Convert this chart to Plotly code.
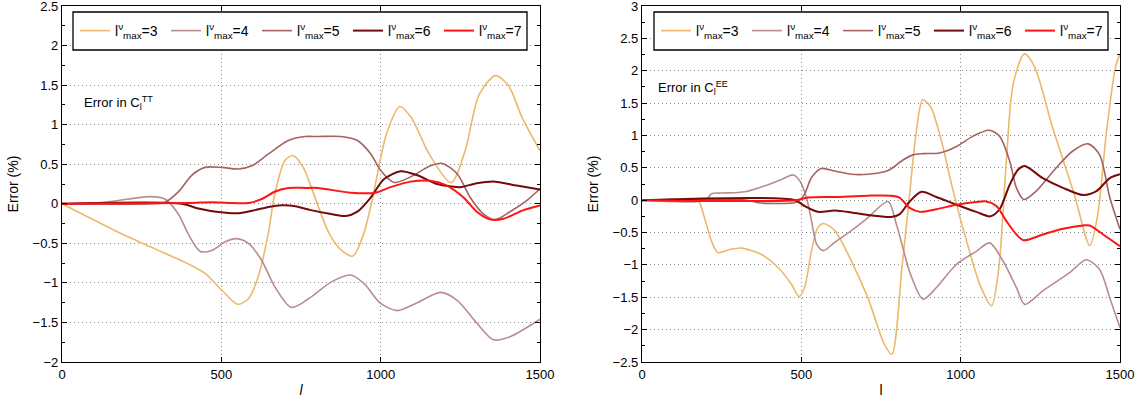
import plotly.graph_objects as go

# ---------------- Left panel: Error in C_l^TT ----------------
tt3_l = [0, 83, 187, 292, 396, 449, 501, 551, 585, 616, 647, 668, 700, 725, 757, 782, 839, 880, 913, 945, 973, 1018, 1060, 1096, 1152, 1221, 1265, 1309, 1360, 1400, 1444, 1500]
tt3_v = [0, -0.17, -0.38, -0.57, -0.76, -0.88, -1.09, -1.27, -1.2, -0.92, -0.38, 0.13, 0.55, 0.61, 0.46, 0.21, -0.38, -0.6, -0.66, -0.4, 0.04, 0.88, 1.23, 1.09, 0.63, 0.265, 0.67, 1.38, 1.62, 1.5, 1.09, 0.67]

tt4_l = [0, 135, 276, 323, 365, 396, 433, 470, 512, 548, 585, 626, 668, 720, 781, 844, 906, 948, 1000, 1052, 1115, 1188, 1240, 1302, 1354, 1406, 1500]
tt4_v = [0, 0.02, 0.09, 0.06, -0.13, -0.38, -0.6, -0.59, -0.48, -0.44, -0.5, -0.71, -1.05, -1.31, -1.18, -0.99, -0.9, -1.01, -1.26, -1.35, -1.25, -1.12, -1.22, -1.51, -1.72, -1.68, -1.46]

tt5_l = [0, 280, 323, 365, 407, 449, 501, 554, 596, 648, 710, 763, 802, 875, 927, 969, 1000, 1042, 1094, 1156, 1193, 1240, 1281, 1323, 1359, 1406, 1458, 1500]
tt5_v = [0, 0.0, 0.02, 0.15, 0.36, 0.46, 0.46, 0.44, 0.48, 0.63, 0.8, 0.85, 0.85, 0.85, 0.8, 0.63, 0.42, 0.27, 0.34, 0.48, 0.51, 0.38, 0.08, -0.13, -0.2, -0.1, 0.04, 0.19]

tt6_l = [0, 376, 428, 491, 554, 606, 648, 690, 732, 781, 844, 891, 927, 969, 1010, 1062, 1115, 1177, 1219, 1250, 1302, 1359, 1427, 1500]
tt6_v = [0, 0, -0.06, -0.105, -0.12, -0.08, -0.04, -0.02, -0.03, -0.08, -0.13, -0.155, -0.1, 0.08, 0.31, 0.41, 0.36, 0.25, 0.22, 0.21, 0.26, 0.28, 0.23, 0.18]

tt7_l = [0, 396, 470, 522, 585, 627, 669, 711, 763, 802, 906, 984, 1031, 1094, 1156, 1208, 1260, 1302, 1344, 1385, 1448, 1500]
tt7_v = [0, 0.01, 0.02, 0.01, 0.01, 0.06, 0.155, 0.2, 0.2, 0.2, 0.14, 0.14, 0.21, 0.28, 0.29, 0.23, 0.08, -0.1, -0.2, -0.19, -0.08, -0.02]

# ---------------- Right panel: Error in C_l^EE ----------------
ee3_l = [0, 120, 150, 176, 196, 218, 238, 270, 312, 375, 427, 469, 493, 510, 532, 552, 570, 605, 657, 709, 761, 784, 816, 838, 860, 881, 906, 939, 973, 1018, 1063, 1097, 1120, 1142, 1165, 1200, 1232, 1288, 1356, 1405, 1429, 1457, 1486, 1500]
ee3_v = [0, 0.01, 0.03, 0, -0.27, -0.63, -0.81, -0.77, -0.74, -0.84, -1.04, -1.3, -1.49, -1.35, -0.78, -0.42, -0.36, -0.47, -0.94, -1.51, -2.23, -2.38, -1.03, 0, 1.03, 1.55, 1.44, 0.93, 0.21, -0.62, -1.34, -1.63, -1.03, 0.51, 1.8, 2.26, 2.06, 1.13, 0.1, -0.7, -0.26, 1.03, 2.06, 2.26]

ee4_l = [0, 200, 218, 250, 323, 396, 438, 474, 495, 516, 532, 548, 569, 605, 657, 709, 772, 800, 843, 882, 924, 987, 1049, 1091, 1133, 1175, 1201, 1258, 1342, 1394, 1436, 1468, 1500]
ee4_v = [0, 0, 0.1, 0.11, 0.13, 0.24, 0.32, 0.39, 0.3, 0.04, -0.32, -0.68, -0.78, -0.65, -0.47, -0.27, -0.02, -0.4, -1.15, -1.53, -1.35, -0.99, -0.79, -0.66, -0.94, -1.35, -1.61, -1.4, -1.12, -0.92, -1.07, -1.51, -1.97]

ee5_l = [0, 330, 365, 478, 495, 510, 532, 563, 605, 657, 709, 761, 777, 819, 850, 882, 934, 987, 1039, 1089, 1122, 1154, 1175, 1198, 1237, 1300, 1352, 1400, 1436, 1468, 1500]
ee5_v = [0, 0, -0.04, -0.04, 0.0, 0.09, 0.35, 0.49, 0.45, 0.4, 0.4, 0.44, 0.47, 0.62, 0.7, 0.72, 0.73, 0.83, 0.99, 1.08, 0.99, 0.6, 0.19, 0.01, 0.14, 0.5, 0.76, 0.87, 0.7, 0.04, -0.45]

ee6_l = [0, 480, 510, 552, 605, 657, 709, 746, 782, 808, 840, 877, 924, 987, 1049, 1093, 1122, 1154, 1180, 1201, 1258, 1321, 1384, 1426, 1468, 1500]
ee6_v = [0, 0, -0.09, -0.18, -0.16, -0.19, -0.23, -0.25, -0.26, -0.22, -0.02, 0.13, 0.05, -0.07, -0.18, -0.25, -0.14, 0.24, 0.47, 0.53, 0.34, 0.19, 0.08, 0.14, 0.34, 0.4]

ee7_l = [0, 480, 521, 605, 709, 777, 808, 840, 871, 924, 987, 1049, 1081, 1112, 1143, 1175, 1198, 1258, 1321, 1384, 1405, 1447, 1500]
ee7_v = [0, 0, 0.04, 0.05, 0.07, 0.07, 0.04, -0.12, -0.18, -0.14, -0.07, -0.03, -0.02, -0.09, -0.32, -0.53, -0.62, -0.53, -0.44, -0.39, -0.39, -0.53, -0.71]

labels = ["l<sup>ν</sup><sub>max</sub>=3", "l<sup>ν</sup><sub>max</sub>=4", "l<sup>ν</sup><sub>max</sub>=5",
          "l<sup>ν</sup><sub>max</sub>=6", "l<sup>ν</sup><sub>max</sub>=7"]
colors = ["#EBB96C", "#B98D8D", "#A46262", "#740A0A", "#FF1414"]
widths = [1.6, 1.6, 1.6, 2.0, 2.0]

left_series = [(tt3_l, tt3_v), (tt4_l, tt4_v), (tt5_l, tt5_v), (tt6_l, tt6_v), (tt7_l, tt7_v)]
right_series = [(ee3_l, ee3_v), (ee4_l, ee4_v), (ee5_l, ee5_v), (ee6_l, ee6_v), (ee7_l, ee7_v)]

FONT = "Liberation Sans, Arial, sans-serif"
W, H = 1143, 402
TOP, PH = 6, 356
fig = go.Figure()

for i, (xs, ys) in enumerate(left_series):
    fig.add_trace(go.Scatter(x=xs, y=ys, mode="lines", name=labels[i],
                             line=dict(color=colors[i], width=widths[i], shape="spline", smoothing=0.8),
                             xaxis="x", yaxis="y", legend="legend"))
for i, (xs, ys) in enumerate(right_series):
    fig.add_trace(go.Scatter(x=xs, y=ys, mode="lines", name=labels[i],
                             line=dict(color=colors[i], width=widths[i], shape="spline", smoothing=0.8),
                             xaxis="x2", yaxis="y2", legend="legend2"))

axis_common = dict(showline=True, linecolor="black", linewidth=1.3, mirror="ticks",
                   ticks="inside", ticklen=5, tickcolor="black",
                   showgrid=True, gridcolor="#8a8a8a", griddash="1px,3px", gridwidth=1,
                   zeroline=False, tickfont=dict(family=FONT, size=13, color="black"),
                   automargin=False, ticklabeloverflow="allow")

xl0, xl1 = 62 / W, 540 / W
xr0, xr1 = 642 / W, 1120 / W

def py(pix):
    return 1 - (pix - TOP) / PH

legend_common = dict(orientation="h", xanchor="left", yanchor="middle",
                     bgcolor="rgba(0,0,0,0)", borderwidth=0,
                     font=dict(family=FONT, size=14), entrywidth=46, entrywidthmode="pixels",
                     tracegroupgap=0, itemwidth=30)

fig.update_layout(
    width=W, height=H,
    margin=dict(l=0, r=0, t=TOP, b=H - TOP - PH),
    paper_bgcolor="white", plot_bgcolor="white",
    font=dict(family=FONT, size=13, color="black"),
    xaxis=dict(domain=[xl0, xl1], range=[0, 1500], tickvals=[0, 500, 1000, 1500],
               title=dict(text="<i>l</i>", standoff=4, font=dict(size=14)), anchor="y", **axis_common),
    yaxis=dict(domain=[0, 1], range=[-2, 2.5], dtick=0.5, anchor="x",
               minor=dict(dtick=0.25, ticks="inside", ticklen=3, tickcolor="black", showgrid=False),
               title=dict(text="Error (%)", standoff=10, font=dict(size=14)), **axis_common),
    xaxis2=dict(domain=[xr0, xr1], range=[0, 1500], tickvals=[0, 500, 1000, 1500],
                title=dict(text="l", standoff=4, font=dict(size=14)), anchor="y2", **axis_common),
    yaxis2=dict(domain=[0, 1], range=[-2.5, 3], dtick=0.5, anchor="x2",
                minor=dict(dtick=0.25, ticks="inside", ticklen=3, tickcolor="black", showgrid=False),
                title=dict(text="Error (%)", standoff=10, font=dict(size=14)), **axis_common),
    legend=dict(x=75 / W, y=py(31), **legend_common),
    legend2=dict(x=656 / W, y=py(31), **legend_common),
    shapes=[
        dict(type="rect", xref="paper", yref="paper", x0=73 / W, x1=527 / W, y0=py(50), y1=py(12),
             fillcolor="white", line=dict(color="black", width=1.3), layer="above"),
        dict(type="rect", xref="paper", yref="paper", x0=654 / W, x1=1108 / W, y0=py(50), y1=py(12),
             fillcolor="white", line=dict(color="black", width=1.3), layer="above"),
    ],
    annotations=[
        dict(text="Error in C<sub>l</sub><sup>TT</sup>", xref="paper", yref="paper",
             x=82 / W, y=py(103), xanchor="left", yanchor="middle",
             showarrow=False, font=dict(family=FONT, size=13)),
        dict(text="Error in C<sub>l</sub><sup>EE</sup>", xref="paper", yref="paper",
             x=656 / W, y=py(88), xanchor="left", yanchor="middle",
             showarrow=False, font=dict(family=FONT, size=13)),
    ],
)

fig.write_html("out.html")
